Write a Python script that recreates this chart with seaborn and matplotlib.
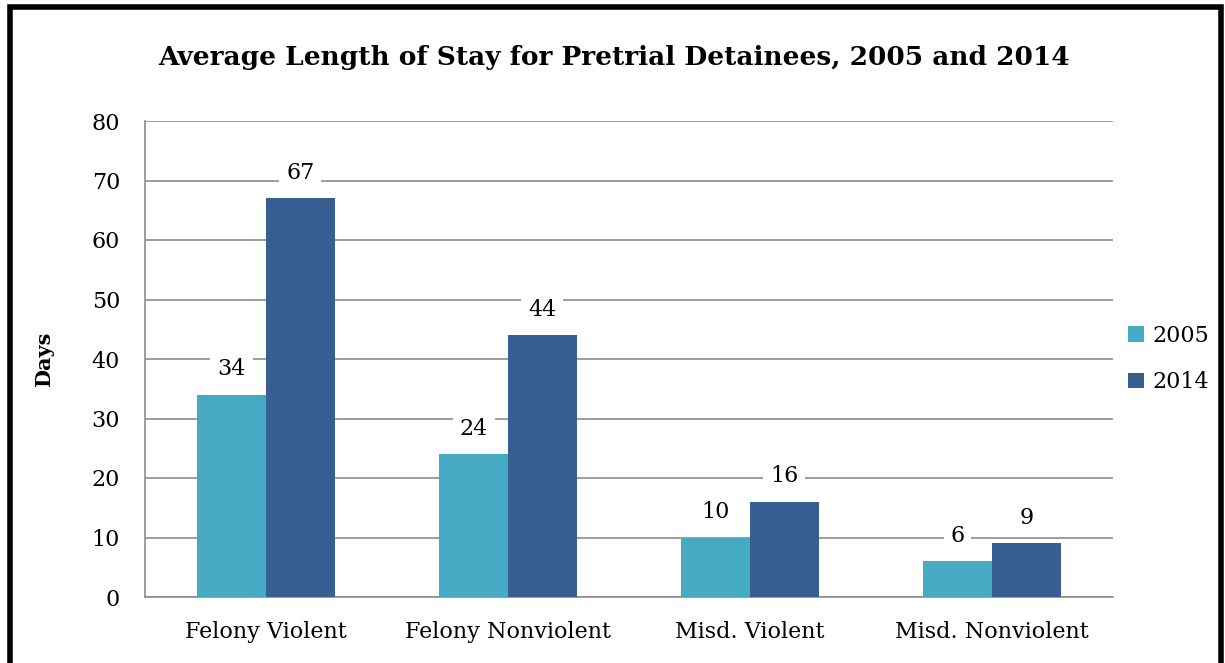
import numpy as np
import pandas as pd
import matplotlib
matplotlib.use("Agg")
import matplotlib.pyplot as plt
import seaborn as sns
from matplotlib.patches import Rectangle

### DATA ###
categories = ["Felony Violent", "Felony Nonviolent", "Misd. Violent", "Misd. Nonviolent"]
years = ["2005", "2014"]
days_2005 = [34, 24, 10, 6]
days_2014 = [67, 44, 16, 9]
yticks = [0, 10, 20, 30, 40, 50, 60, 70, 80]

df = pd.DataFrame({
    "category": categories * 2,
    "year": ["2005"] * len(categories) + ["2014"] * len(categories),
    "days": days_2005 + days_2014,
})

sns.set_style("white")
plt.rcParams['font.family'] = ['DejaVu Serif']
plt.rcParams['text.color'] = 'black'

fig = plt.figure(figsize=(12.25, 6.63), dpi=100)
ax = fig.add_axes([145 / 1225, 1 - 597 / 663, (1113 - 145) / 1225, (597 - 121) / 663])

palette = {"2005": "#46AAC5", "2014": "#375F91"}
sns.barplot(data=df, x="category", y="days", hue="year", hue_order=years,
            palette=palette, width=0.57, saturation=1, linewidth=0,
            ax=ax, zorder=3)

# gridlines and axes
ax.set_ylim(0, 80)
ax.set_yticks(yticks)
ax.yaxis.grid(True, color="#8C8C8C", linewidth=1.2, zorder=0)
ax.set_axisbelow(True)
for s in ["top", "right"]:
    ax.spines[s].set_visible(False)
for s in ["left", "bottom"]:
    ax.spines[s].set_color("#8C8C8C")
    ax.spines[s].set_linewidth(1.2)
ax.tick_params(axis="both", length=0, labelsize=16, colors="black")
ax.tick_params(axis="y", pad=18)
ax.tick_params(axis="x", pad=17)
ax.set_xlabel("")
ax.set_ylabel("Days", fontsize=15, fontweight="bold", labelpad=27, color="black")

# value labels with white background
for cont in ax.containers:
    for bar in cont:
        h = bar.get_height()
        ax.text(bar.get_x() + bar.get_width() / 2, h + 4.3, "%d" % h,
                ha="center", va="center", fontsize=16, zorder=5, color="black",
                bbox=dict(facecolor="white", edgecolor="none", pad=5))

fig.suptitle("Average Length of Stay for Pretrial Detainees, 2005 and 2014",
             x=614 / 1225, y=1 - 58 / 663, va="center", fontsize=19,
             fontweight="heavy", color="black")

leg = ax.legend(loc="center left", bbox_to_anchor=(0.995, 0.5), frameon=False,
                fontsize=16, handlelength=0.7, handleheight=0.7, handletextpad=0.4,
                labelspacing=1.1)
for t in leg.get_texts():
    t.set_color("black")

# outer frame
fig.patches.append(Rectangle((10 / 1225, -0.05), 1211 / 1225, 1.05 - 7 / 663,
                             transform=fig.transFigure, fill=False,
                             edgecolor="black", linewidth=4))

fig.savefig("out.png", dpi=100)
